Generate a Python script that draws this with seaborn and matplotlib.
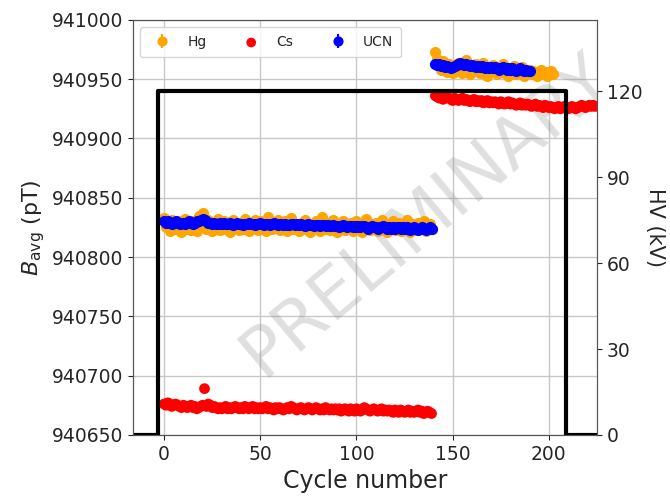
from matplotlib import pyplot as plt
import numpy as np
import pandas as pd
import seaborn as sns

# Cycle numbers of each block
cycles_a = list(range(0, 140))
hg_cycles_b = list(range(141, 203))
ucn_cycles_b = list(range(141, 191))
cs_cycles_b = list(range(141, 225))

# Average field (pT), first block (HV on)
hg_a = [940833, 940825, 940828, 940822, 940831, 940827, 940824, 940830, 940826, 940821,
        940829, 940832, 940824, 940827, 940823, 940830, 940826, 940822, 940835, 940828,
        940837, 940826, 940824, 940831, 940827, 940822, 940829, 940825, 940832, 940823,
        940827, 940830, 940824, 940828, 940821, 940826, 940831, 940825, 940829, 940823,
        940828, 940824, 940832, 940826, 940822, 940829, 940825, 940831, 940827, 940823,
        940830, 940825, 940828, 940822, 940834, 940827, 940824, 940829, 940826, 940831,
        940823, 940828, 940825, 940830, 940822, 940827, 940833, 940824, 940828, 940826,
        940822, 940829, 940826, 940831, 940824, 940827, 940821, 940828, 940825, 940830,
        940826, 940822, 940834, 940827, 940824, 940829, 940823, 940826, 940831, 940825,
        940821, 940828, 940825, 940830, 940823, 940827, 940824, 940829, 940822, 940826,
        940830, 940824, 940827, 940821, 940826, 940832, 940825, 940823, 940828, 940824,
        940829, 940822, 940826, 940831, 940824, 940827, 940821, 940828, 940825, 940830,
        940823, 940826, 940829, 940822, 940827, 940824, 940831, 940825, 940821, 940828,
        940826, 940823, 940829, 940824, 940827, 940830, 940822, 940826, 940828, 940824]

ucn_a = [940830, 940829, 940830, 940829, 940828, 940829, 940830, 940829, 940828, 940829,
         940829, 940828, 940829, 940830, 940829, 940828, 940829, 940830, 940830, 940831,
         940832, 940831, 940830, 940829, 940829, 940828, 940829, 940828, 940828, 940829,
         940828, 940829, 940828, 940828, 940829, 940828, 940827, 940828, 940829, 940828,
         940828, 940827, 940828, 940828, 940829, 940828, 940828, 940827, 940828, 940828,
         940829, 940828, 940827, 940828, 940828, 940827, 940828, 940829, 940828, 940827,
         940828, 940828, 940827, 940828, 940827, 940827, 940828, 940828, 940827, 940828,
         940827, 940828, 940827, 940826, 940827, 940828, 940827, 940827, 940826, 940827,
         940827, 940826, 940827, 940827, 940826, 940827, 940826, 940826, 940827, 940826,
         940826, 940825, 940826, 940827, 940826, 940825, 940826, 940826, 940825, 940826,
         940825, 940826, 940825, 940826, 940826, 940825, 940824, 940825, 940826, 940825,
         940825, 940824, 940825, 940825, 940826, 940825, 940824, 940825, 940824, 940825,
         940824, 940825, 940825, 940824, 940825, 940824, 940825, 940824, 940823, 940824,
         940825, 940824, 940823, 940824, 940825, 940824, 940823, 940824, 940825, 940824]

cs_a = [940676, 940675, 940677, 940676, 940674, 940675, 940676, 940675, 940674, 940673,
        940675, 940674, 940673, 940674, 940675, 940673, 940674, 940672, 940673, 940674,
        940675, 940689, 940674, 940676, 940675, 940673, 940674, 940673, 940672, 940673,
        940672, 940673, 940674, 940672, 940673, 940672, 940673, 940674, 940673, 940672,
        940673, 940672, 940674, 940673, 940672, 940673, 940674, 940672, 940673, 940672,
        940673, 940672, 940673, 940674, 940672, 940673, 940672, 940671, 940673, 940672,
        940673, 940672, 940671, 940672, 940673, 940672, 940674, 940673, 940672, 940671,
        940672, 940673, 940672, 940671, 940672, 940673, 940672, 940671, 940672, 940673,
        940672, 940671, 940672, 940671, 940673, 940672, 940671, 940672, 940671, 940672,
        940671, 940672, 940670, 940671, 940672, 940671, 940670, 940672, 940671, 940670,
        940672, 940671, 940670, 940671, 940673, 940672, 940671, 940670, 940671, 940672,
        940671, 940670, 940671, 940672, 940670, 940671, 940670, 940671, 940670, 940669,
        940671, 940670, 940669, 940671, 940670, 940669, 940670, 940671, 940669, 940670,
        940669, 940670, 940671, 940669, 940670, 940668, 940669, 940670, 940669, 940668]

# Average field (pT), second block (HV off)
hg_b = [940973, 940967, 940962, 940958, 940965, 940960, 940956, 940963, 940959, 940955,
        940962, 940957, 940964, 940959, 940955, 940961, 940966, 940958, 940954, 940962,
        940957, 940963, 940959, 940955, 940961, 940964, 940957, 940953, 940960, 940956,
        940962, 940958, 940954, 940960, 940957, 940963, 940955, 940959, 940953, 940958,
        940956, 940961, 940954, 940958, 940955, 940960, 940953, 940957, 940955, 940958,
        940954, 940957, 940955, 940953, 940956, 940958, 940954, 940956, 940953, 940955,
        940957, 940954]

ucn_b = [940963, 940962, 940963, 940961, 940962, 940960, 940961, 940960, 940959, 940960,
         940961, 940962, 940963, 940964, 940963, 940962, 940963, 940962, 940961, 940962,
         940961, 940960, 940961, 940960, 940961, 940960, 940959, 940960, 940959, 940960,
         940959, 940960, 940959, 940958, 940959, 940960, 940959, 940958, 940959, 940958,
         940959, 940958, 940957, 940958, 940959, 940958, 940957, 940958, 940957, 940957]

cs_b = [940936, 940935, 940934, 940935, 940933, 940934, 940935, 940934, 940933, 940932,
        940934, 940933, 940932, 940933, 940934, 940932, 940933, 940932, 940931, 940932,
        940933, 940931, 940932, 940931, 940932, 940930, 940931, 940932, 940930, 940931,
        940930, 940931, 940930, 940929, 940931, 940930, 940929, 940930, 940931, 940929,
        940930, 940929, 940928, 940929, 940930, 940928, 940929, 940928, 940929, 940928,
        940927, 940928, 940929, 940927, 940928, 940927, 940926, 940928, 940927, 940926,
        940927, 940926, 940925, 940926, 940927, 940925, 940926, 940927, 940926, 940925,
        940926, 940927, 940926, 940925, 940926, 940927, 940928, 940927, 940926, 940927,
        940928, 940927, 940928, 940927]

hg_err = 3.0
ucn_err = 1.0

# High voltage (kV) vs cycle
hv_cycles = [-16, -3, -3, 209, 209, 225]
hv_kv = [0, 0, 120, 120, 0, 0]

sns.set_style("ticks")
plt.rcParams['font.family'] = ['DejaVu Sans']

fig, ax = plt.subplots(figsize=(6.7, 4.97), dpi=100)
fig.subplots_adjust(left=0.199, right=0.891, top=0.96, bottom=0.125)

ax.grid(True, color='#c8c8c8', linewidth=1, zorder=0)
ax.set_axisbelow(True)

hg = ax.errorbar(cycles_a + hg_cycles_b, hg_a + hg_b, yerr=hg_err, fmt='o',
                 color='orange', ms=7, elinewidth=1.5, label='Hg', zorder=2)
cs_df = pd.DataFrame({'cycle': cycles_a + cs_cycles_b, 'B': cs_a + cs_b})
sns.scatterplot(data=cs_df, x='cycle', y='B', color='red', s=60, edgecolor='none',
                label='Cs', ax=ax, zorder=3)
ucn = ax.errorbar(cycles_a + ucn_cycles_b, ucn_a + ucn_b, yerr=ucn_err, fmt='o',
                  color='blue', ms=7, elinewidth=1.5, label='UCN', zorder=4)

ax.text(0.63, 0.53, 'PRELIMINARY', transform=ax.transAxes, rotation=40,
        rotation_mode='anchor', ha='center', va='center', fontsize=50,
        color='gray', alpha=0.25, zorder=1, clip_on=True)

ax.set_xlim(-16, 225)
ax.set_ylim(940650, 941000)
ax.set_yticks(np.arange(940650, 941001, 50))
ax.set_xticks([0, 50, 100, 150, 200])
ax.set_xlabel('Cycle number', fontsize=17)
ax.set_ylabel(r'$B_{\mathrm{avg}}$ (pT)', fontsize=16)
ax.tick_params(labelsize=13.5)

handles, labels = ax.get_legend_handles_labels()
order = [labels.index(n) for n in ['Hg', 'Cs', 'UCN']]
ax.legend([handles[i] for i in order], [labels[i] for i in order], loc='upper left',
          ncol=3, fontsize=10, columnspacing=2.2, handletextpad=0.8,
          borderpad=0.6, markerscale=0.9)

ax2 = ax.twinx()
hv_df = pd.DataFrame({'cycle': hv_cycles, 'hv': hv_kv})
sns.lineplot(data=hv_df, x='cycle', y='hv', color='black', linewidth=3,
             estimator=None, sort=False, ax=ax2, legend=False)
ax2.set_ylim(0, 145)
ax2.set_yticks([0, 30, 60, 90, 120])
ax2.set_ylabel('HV (kV)', fontsize=15, rotation=270, labelpad=16)
ax2.set_xlabel('')
ax2.tick_params(labelsize=13.5)

for a in (ax, ax2):
    for s in a.spines.values():
        s.set_color('#555555')

fig.savefig('out.png', dpi=100)
